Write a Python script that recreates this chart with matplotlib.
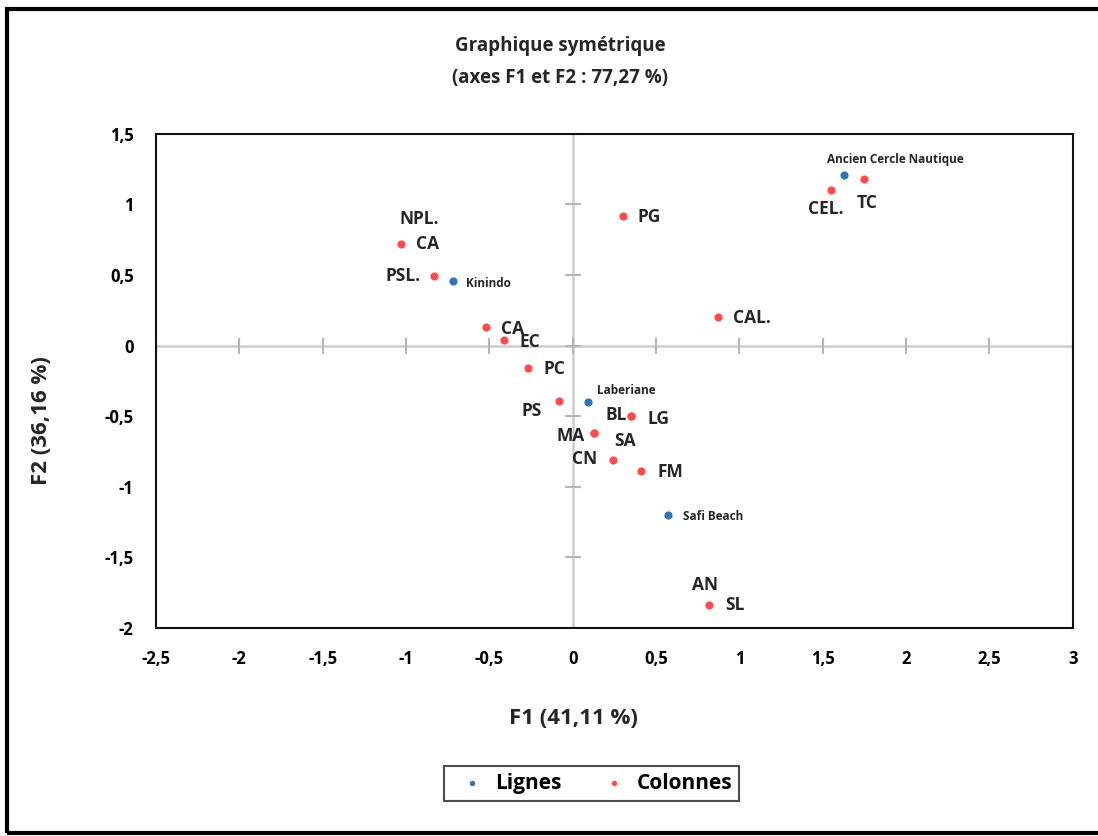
import numpy as np
import matplotlib.pyplot as plt
from matplotlib.patches import Rectangle

# Lignes (blue)
row_names = ["Ancien Cercle Nautique", "Kinindo", "Laberiane", "Safi Beach"]
row_x = [1.63, -0.72, 0.09, 0.57]
row_y = [1.21, 0.46, -0.40, -1.20]

# Colonnes (red)
col_names = ["TC", "CEL.", "PG", "NPL.\n\nCA", "PSL.", "CAL.", "CA", "EC", "PC",
             "PS", "BL", "LG", "MA", "SA", "CN", "FM", "AN\n\nSL"]
col_x = [1.75, 1.55, 0.30, -1.03, -0.83, 0.87, -0.52, -0.41, -0.27,
         -0.08, 0.35, 0.35, 0.13, 0.13, 0.24, 0.41, 0.82]
col_y = [1.18, 1.10, 0.92, 0.72, 0.49, 0.20, 0.13, 0.04, -0.16,
         -0.39, -0.50, -0.50, -0.62, -0.62, -0.81, -0.89, -1.84]

xticks = np.arange(-2.5, 3.01, 0.5)
yticks = np.arange(-2, 1.51, 0.5)

blue = "#2E75B6"
red = "#FF4B4B"
fnt = ["Open Sans", "DejaVu Sans"]

fig = plt.figure(figsize=(10.98, 8.36), dpi=100)
ax = fig.add_axes([0.142, 0.249, 0.835, 0.591])
ax.set_xlim(-2.5, 3)
ax.set_ylim(-2, 1.5)

ax.axhline(0, color="#CDCDCD", lw=1.8, zorder=1)
ax.axvline(0, color="#CDCDCD", lw=1.8, zorder=1)
ax.plot(xticks, np.zeros_like(xticks), ls="none", marker="|", ms=12, mew=1.5, color="#B5B5B5", zorder=1)
ax.plot(np.zeros_like(yticks), yticks, ls="none", marker="_", ms=12, mew=1.5, color="#B5B5B5", zorder=1)

ax.scatter(row_x, row_y, s=24, color=blue, zorder=3, label="Lignes")
ax.scatter(col_x, col_y, s=24, color=red, zorder=3, label="Colonnes")

# label offsets in pixels (dx, dy, ha)
row_off = [(-17, 15, "left"), (13, -3, "left"), (9, 11, "left"), (15, -2, "left")]
for n, x, y, (dx, dy, ha) in zip(row_names, row_x, row_y, row_off):
    ax.annotate(n, (x, y), xytext=(dx, dy), textcoords="offset pixels",
                ha=ha, va="center", fontsize=8.5, fontweight="bold", family=fnt, color="#262626")

col_off = [(3, -24, "center"), (-5, -19, "center"), (15, -1, "left"), (15, 0, "left"),
           (-14, 0, "right"), (15, -1, "left"), (15, -2, "left"), (15, -2, "left"),
           (16, -1, "left"), (-17, -10, "right"), (-4, 1, "right"), (16, -3, "left"),
           (-10, -3, "right"), (20, -8, "left"), (-16, 1, "right"), (16, -1, "left"),
           (16, 0, "left")]
lab_kw = dict(textcoords="offset pixels", va="center", fontsize=12.5,
              fontweight="bold", family=fnt, color="#262626")
for n, x, y, (dx, dy, ha) in zip(col_names, col_x, col_y, col_off):
    if "\n\n" in n:
        top, bot = n.split("\n\n")
        if top == "NPL.":
            ax.annotate(top, (x, y), xytext=(18, 25), ha="center", **lab_kw)
        else:
            ax.annotate(top, (x, y), xytext=(-4, 20), ha="center", **lab_kw)
        n = bot
    ax.annotate(n, (x, y), xytext=(dx, dy), ha=ha, **lab_kw)

ax.set_xticks(xticks)
ax.set_yticks(yticks)
ax.set_xticklabels([("%g" % v).replace(".", ",") for v in xticks])
ax.set_yticklabels([("%g" % v).replace(".", ",") for v in yticks])
ax.tick_params(axis="x", length=0, pad=16, labelsize=12)
ax.tick_params(axis="y", length=0, pad=16, labelsize=12)
for lab in ax.get_xticklabels() + ax.get_yticklabels():
    lab.set_fontweight("bold")
    lab.set_family(fnt)
for s in ax.spines.values():
    s.set_linewidth(1.5)
    s.set_color("#111111")

fig.text(0.51, 0.945, "Graphique symétrique", ha="center", va="center",
         fontsize=13.5, fontweight="bold", family=fnt, color="#262626")
fig.text(0.51, 0.907, "(axes F1 et F2 : 77,27 %)", ha="center", va="center",
         fontsize=13.5, fontweight="bold", family=fnt, color="#262626")
fig.text(0.522, 0.140, "F1 (41,11 %)", ha="center", va="center",
         fontsize=16, fontweight="bold", family=fnt, color="#262626")
fig.text(0.038, 0.497, "F2 (36,16 %)", ha="center", va="center", rotation=90,
         fontsize=16, fontweight="bold", family=fnt, color="#262626")

leg = fig.legend(loc="center", bbox_to_anchor=(0.539, 0.063), ncol=2, frameon=True,
                 fancybox=False, edgecolor="#222222", markerscale=0.6,
                 prop={"family": fnt, "weight": "bold", "size": 15},
                 handletextpad=0.1, columnspacing=1.5, borderpad=0.35)
leg.get_frame().set_linewidth(1.5)

fig.patches.append(Rectangle((0.006, 0.004), 1.0, 0.985, transform=fig.transFigure,
                             fill=False, lw=3, edgecolor="black"))

fig.savefig("out.png", dpi=100)
